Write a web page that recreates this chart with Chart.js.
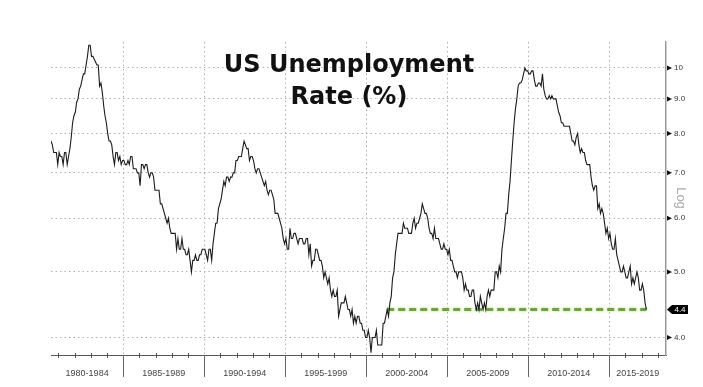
<!DOCTYPE html>
<html><head><meta charset="utf-8">
<script src="https://cdn.jsdelivr.net/npm/chart.js@4.4.1/dist/chart.umd.min.js"></script>
<style>html,body{margin:0;padding:0;background:#fff;}#wrap{width:703px;height:387px;}</style>
</head><body><div id="wrap"><canvas id="c" width="703" height="387"></canvas></div>
<script>
const titleLines = ['US Unemployment', 'Rate (%)'];
const axisNote = 'Log';
const startYear = 1980, startMonth = 7;
const rates = [
  7.8,7.7,7.5,7.5,7.5,7.2,
  7.5,7.4,7.4,7.2,7.5,7.5,7.2,7.4,7.6,7.9,8.3,8.5,
  8.6,8.9,9.0,9.3,9.4,9.6,9.8,9.8,10.1,10.4,10.8,10.8,
  10.4,10.4,10.3,10.2,10.1,10.1,9.4,9.5,9.2,8.8,8.5,8.3,
  8.0,7.8,7.8,7.7,7.4,7.2,7.5,7.5,7.3,7.4,7.2,7.3,
  7.3,7.2,7.2,7.3,7.2,7.4,7.4,7.1,7.1,7.1,7.0,7.0,
  6.7,7.2,7.2,7.1,7.2,7.2,7.0,6.9,7.0,7.0,6.9,6.6,
  6.6,6.6,6.6,6.3,6.3,6.2,6.1,6.0,5.9,6.0,5.8,5.7,
  5.7,5.7,5.7,5.4,5.6,5.4,5.4,5.6,5.4,5.4,5.3,5.3,
  5.4,5.2,5.0,5.2,5.2,5.3,5.2,5.2,5.3,5.3,5.4,5.4,
  5.4,5.3,5.2,5.4,5.4,5.2,5.5,5.7,5.9,5.9,6.2,6.3,
  6.4,6.6,6.8,6.7,6.9,6.9,6.8,6.9,6.9,7.0,7.0,7.3,
  7.3,7.4,7.4,7.4,7.6,7.8,7.7,7.6,7.6,7.3,7.4,7.4,
  7.3,7.1,7.0,7.1,7.1,7.0,6.9,6.8,6.7,6.8,6.6,6.5,
  6.6,6.6,6.5,6.4,6.1,6.1,6.1,6.0,5.9,5.8,5.6,5.5,
  5.6,5.4,5.4,5.8,5.6,5.6,5.7,5.7,5.6,5.5,5.6,5.6,
  5.6,5.5,5.5,5.6,5.6,5.3,5.5,5.1,5.2,5.2,5.4,5.4,
  5.3,5.2,5.2,5.1,4.9,5.0,4.9,4.8,4.9,4.7,4.6,4.7,
  4.6,4.6,4.7,4.3,4.4,4.5,4.5,4.5,4.6,4.5,4.4,4.4,
  4.3,4.4,4.2,4.3,4.2,4.3,4.3,4.2,4.2,4.1,4.1,4.0,
  4.0,4.1,4.0,3.8,4.0,4.0,4.0,4.1,3.9,3.9,3.9,3.9,
  4.2,4.2,4.3,4.4,4.3,4.5,4.6,4.9,5.0,5.3,5.5,5.7,
  5.7,5.7,5.7,5.9,5.8,5.8,5.8,5.7,5.7,5.7,5.9,6.0,
  5.8,5.9,5.9,6.0,6.1,6.3,6.2,6.1,6.1,6.0,5.8,5.7,
  5.7,5.6,5.8,5.6,5.6,5.6,5.5,5.4,5.4,5.5,5.4,5.4,
  5.3,5.4,5.2,5.2,5.1,5.0,5.0,4.9,5.0,5.0,5.0,4.9,
  4.7,4.8,4.7,4.7,4.6,4.6,4.7,4.7,4.5,4.4,4.5,4.4,
  4.6,4.5,4.4,4.5,4.4,4.6,4.7,4.6,4.7,4.7,4.7,5.0,
  5.0,4.9,5.1,5.0,5.4,5.6,5.8,6.1,6.1,6.5,6.8,7.3,
  7.8,8.3,8.7,9.0,9.4,9.5,9.5,9.6,9.8,10.0,9.9,9.9,
  9.8,9.8,9.9,9.9,9.6,9.4,9.4,9.5,9.5,9.4,9.8,9.3,
  9.1,9.0,9.0,9.1,9.0,9.1,9.0,9.0,9.0,8.8,8.6,8.5,
  8.3,8.3,8.2,8.2,8.2,8.2,8.2,8.0,7.8,7.8,7.7,7.9,
  8.0,7.7,7.5,7.6,7.5,7.5,7.3,7.2,7.2,7.2,6.9,6.7,
  6.6,6.7,6.7,6.2,6.3,6.1,6.2,6.1,5.9,5.7,5.8,5.6,
  5.7,5.5,5.4,5.4,5.6,5.3,5.2,5.1,5.0,5.0,5.1,5.0,
  4.9,4.9,5.0,5.1,4.8,4.9,4.8,4.9,5.0,4.9,4.7,4.7,
  4.8,4.7,4.5,4.4
];
const yTicks = [4, 5, 6, 7, 8, 9, 10];
const periodStarts = [1980, 1985, 1990, 1995, 2000, 2005, 2010, 2015];
const periodLabels = ['1980-1984','1985-1989','1990-1994','1995-1999','2000-2004','2005-2009','2010-2014','2015-2019'];
const refLevel = 4.4;
const refFromYear = 2000;
const xMaxYear = 2018.5;
const yMin = 3.77, yMax = 10.92;

const points = rates.map((v, i) => ({ x: startYear + (startMonth - 1 + i + 0.5) / 12, y: v }));
const xMin = points[0].x;
const lastPt = points[points.length - 1];
const refStart = points.find(p => p.x >= refFromYear && p.y >= refLevel);
const refLine = [{ x: refStart.x, y: refLevel }, { x: lastPt.x, y: refLevel }];

const bounds = periodStarts.filter(p => p > xMin && p < xMaxYear);
const labelPos = periodStarts.map(p => (Math.max(p, xMin) + Math.min(p + 5, xMaxYear)) / 2);
const xTickVals = bounds.concat(labelPos).sort((a, b) => a - b);
const isBound = v => bounds.some(b => Math.abs(b - v) < 1e-6);
const labelAt = v => { const i = labelPos.findIndex(p => Math.abs(p - v) < 1e-6); return i >= 0 ? periodLabels[i] : ''; };

const line = (ctx, x1, y1, x2, y2) => { ctx.beginPath(); ctx.moveTo(x1, y1); ctx.lineTo(x2, y2); ctx.stroke(); };

const decor = {
  id: 'decor',
  beforeDatasetDraw(chart, args) {
    if (args.index === 1) {
      const c = chart.ctx; c.save();
      c.shadowColor = 'rgba(160,215,90,0.8)'; c.shadowBlur = 3;
    }
  },
  afterDatasetDraw(chart, args) {
    if (args.index === 1) chart.ctx.restore();
  },
  afterDraw(chart) {
    const { ctx, chartArea: a, scales: { x, y } } = chart;
    ctx.save();
    ctx.strokeStyle = '#666'; ctx.lineWidth = 1;
    bounds.forEach(b => { const px = Math.round(x.getPixelForValue(b)) + 0.5; line(ctx, px, a.bottom, px, a.bottom + 22); });
    ctx.strokeStyle = '#555';
    for (let yr = Math.ceil(xMin); yr <= xMaxYear; yr++) {
      if (isBound(yr)) continue;
      const px = Math.round(x.getPixelForValue(yr)) + 0.5;
      line(ctx, px, a.bottom - 2, px, a.bottom + 3);
    }
    ctx.fillStyle = '#111';
    yTicks.forEach(v => {
      const py = y.getPixelForValue(v);
      ctx.beginPath(); ctx.moveTo(a.right + 1, py - 2.5); ctx.lineTo(a.right + 6, py); ctx.lineTo(a.right + 1, py + 2.5); ctx.closePath(); ctx.fill();
    });
    // last value tag
    const py = y.getPixelForValue(lastPt.y);
    ctx.fillStyle = '#000';
    ctx.beginPath();
    ctx.moveTo(a.right + 1, py); ctx.lineTo(a.right + 6, py - 4.5); ctx.lineTo(a.right + 22, py - 4.5);
    ctx.lineTo(a.right + 22, py + 4.5); ctx.lineTo(a.right + 6, py + 4.5); ctx.closePath(); ctx.fill();
    ctx.fillStyle = '#fff'; ctx.font = '8px "Liberation Sans"'; ctx.textAlign = 'center'; ctx.textBaseline = 'middle';
    ctx.fillText(lastPt.y.toFixed(1), a.right + 14, py + 0.5);
    // Log note
    ctx.save();
    ctx.translate(a.right + 15, 198); ctx.rotate(Math.PI / 2);
    ctx.fillStyle = '#aaa'; ctx.font = '13px "Liberation Sans"'; ctx.textAlign = 'center'; ctx.textBaseline = 'middle';
    ctx.fillText(axisNote, 0, 0);
    ctx.restore();
    // title
    ctx.fillStyle = '#111'; ctx.font = 'bold 24px "DejaVu Sans"'; ctx.textAlign = 'center'; ctx.textBaseline = 'middle';
    ctx.fillText(titleLines[0], 349, 66);
    ctx.fillText(titleLines[1], 349, 98);
    ctx.restore();
  }
};

new Chart(document.getElementById('c'), {
  type: 'line',
  data: {
    datasets: [
      { data: points, borderColor: '#1c1c1c', borderWidth: 1.1, pointRadius: 0, tension: 0 },
      { data: refLine, borderColor: '#6aa63a', borderWidth: 3, borderDash: [7, 4], pointRadius: 0 }
    ]
  },
  options: {
    responsive: false, animation: false, devicePixelRatio: 1,
    layout: { padding: { left: 51, top: 42, right: 0, bottom: 0 } },
    plugins: { legend: { display: false }, tooltip: { enabled: false } },
    scales: {
      x: {
        type: 'linear', position: 'bottom', min: xMin, max: xMaxYear,
        afterBuildTicks: s => { s.ticks = xTickVals.map(v => ({ value: v })); },
        afterFit: s => { s.height = 32; },
        grid: { color: c => (c.tick && isBound(c.tick.value)) ? '#b0b0b0' : 'rgba(0,0,0,0)', lineWidth: 1, drawTicks: false },
        border: { display: true, color: '#555', width: 1, dash: [1.5, 3] },
        ticks: { autoSkip: false, maxRotation: 0, padding: 13, color: '#444', font: { family: 'Liberation Sans', size: 9 }, callback: v => labelAt(v) }
      },
      y: {
        type: 'logarithmic', position: 'right', min: yMin, max: yMax,
        afterBuildTicks: s => { s.ticks = yTicks.map(v => ({ value: v })); },
        afterFit: s => { s.width = 37; },
        grid: { color: '#b0b0b0', lineWidth: 1, drawTicks: false },
        border: { display: true, color: '#999', width: 1.5, dash: [1.5, 3] },
        ticks: { padding: 8, color: '#333', font: { family: 'Liberation Sans', size: 8 }, callback: v => v === 10 ? '10' : Number(v).toFixed(1) }
      }
    }
  },
  plugins: [decor]
});
</script></body></html>
